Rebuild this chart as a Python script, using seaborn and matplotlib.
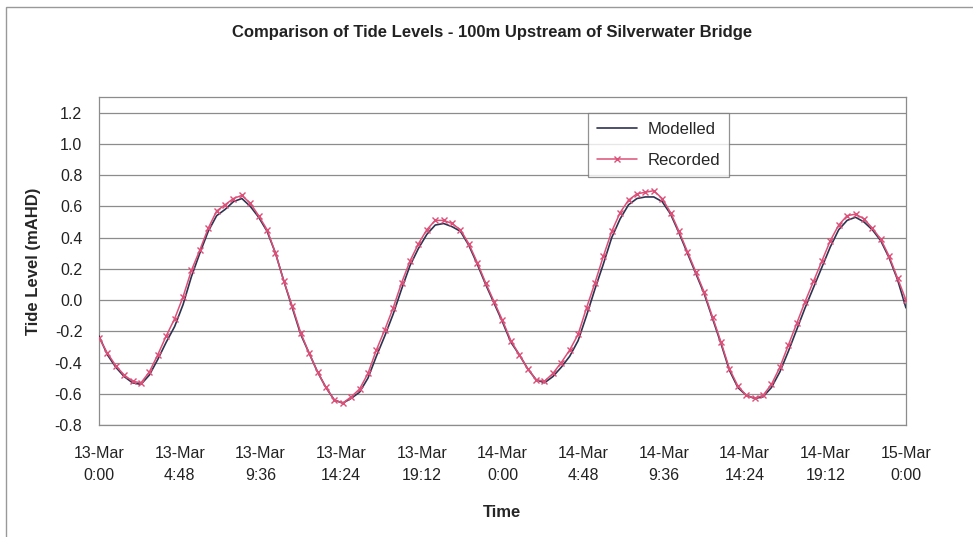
import numpy as np
import matplotlib.pyplot as plt
import seaborn as sns
from matplotlib.patches import Rectangle

# half-hourly tide levels (mAHD), 13-Mar 0:00 to 15-Mar 0:00
hours = np.arange(0, 48.5, 0.5)

modelled = [
    -0.23, -0.35, -0.43, -0.49, -0.53, -0.54, -0.48, -0.38, -0.27, -0.17, -0.03, 0.15,
    0.30, 0.44, 0.54, 0.58, 0.63, 0.65, 0.60, 0.53, 0.44, 0.30, 0.12, -0.05,
    -0.22, -0.34, -0.46, -0.56, -0.64, -0.66, -0.63, -0.59, -0.50, -0.36, -0.23, -0.09,
    0.07, 0.22, 0.33, 0.42, 0.48, 0.49, 0.47, 0.44, 0.35, 0.23, 0.10, -0.02,
    -0.14, -0.27, -0.35, -0.44, -0.51, -0.53, -0.49, -0.43, -0.36, -0.26, -0.10, 0.07,
    0.23, 0.40, 0.52, 0.61, 0.65, 0.66, 0.66, 0.63, 0.55, 0.43, 0.30, 0.17,
    0.04, -0.12, -0.28, -0.45, -0.56, -0.61, -0.63, -0.62, -0.56, -0.46, -0.33, -0.19,
    -0.05, 0.08, 0.21, 0.34, 0.45, 0.51, 0.53, 0.50, 0.45, 0.38, 0.27, 0.13,
    -0.05,
]

recorded = [
    -0.24, -0.34, -0.42, -0.48, -0.52, -0.53, -0.46, -0.35, -0.23, -0.12, 0.02, 0.19,
    0.32, 0.46, 0.57, 0.61, 0.65, 0.67, 0.62, 0.54, 0.45, 0.30, 0.12, -0.04,
    -0.21, -0.34, -0.46, -0.56, -0.64, -0.66, -0.62, -0.57, -0.47, -0.32, -0.19, -0.05,
    0.11, 0.25, 0.36, 0.45, 0.51, 0.51, 0.49, 0.45, 0.36, 0.24, 0.11, -0.01,
    -0.13, -0.26, -0.35, -0.44, -0.51, -0.52, -0.47, -0.40, -0.32, -0.22, -0.05, 0.11,
    0.28, 0.44, 0.56, 0.64, 0.68, 0.69, 0.70, 0.65, 0.56, 0.44, 0.31, 0.18,
    0.05, -0.11, -0.27, -0.44, -0.55, -0.61, -0.63, -0.61, -0.54, -0.43, -0.29, -0.15,
    -0.01, 0.12, 0.25, 0.38, 0.48, 0.54, 0.55, 0.52, 0.46, 0.39, 0.28, 0.14,
    0.00,
]

tick_hours = [0, 4.8, 9.6, 14.4, 19.2, 24, 28.8, 33.6, 38.4, 43.2, 48]
tick_labels = [
    "13-Mar\n0:00", "13-Mar\n4:48", "13-Mar\n9:36", "13-Mar\n14:24", "13-Mar\n19:12",
    "14-Mar\n0:00", "14-Mar\n4:48", "14-Mar\n9:36", "14-Mar\n14:24", "14-Mar\n19:12",
    "15-Mar\n0:00",
]
y_ticks = [-0.8, -0.6, -0.4, -0.2, 0.0, 0.2, 0.4, 0.6, 0.8, 1.0, 1.2]

sns.set_style("white")
plt.rcParams["font.family"] = ["Liberation Sans", "DejaVu Sans"]

GRID = "#8c8c8c"

fig = plt.figure(figsize=(9.73, 5.37), dpi=100)
ax = fig.add_axes([0.1017, 0.2086, 0.8294, 0.6108])

for y in y_ticks:
    ax.axhline(y, color=GRID, lw=0.9, zorder=0)

sns.lineplot(x=hours, y=modelled, ax=ax, color="#2d3450", lw=1.2,
             label="Modelled", zorder=3)
sns.lineplot(x=hours, y=recorded, ax=ax, color="#dc4f78", lw=1.1,
             marker="x", markersize=4, markeredgewidth=1.0,
             markeredgecolor="#dc4f78", label="Recorded", zorder=4)

ax.set_xlim(0, 48)
ax.set_ylim(-0.8, 1.3)
ax.set_xticks(tick_hours)
ax.set_xticklabels(tick_labels, linespacing=1.6)
ax.set_yticks(y_ticks)
ax.set_yticklabels([f"{v:.1f}" for v in y_ticks])
ax.tick_params(axis="both", labelsize=11.5, colors="#222222", length=5,
               width=0.9, direction="out")
ax.tick_params(axis="x", pad=10, color=GRID)
ax.tick_params(axis="y", pad=7, color=GRID)

for side in ["left", "bottom", "top", "right"]:
    ax.spines[side].set_visible(True)
    ax.spines[side].set_color(GRID)
    ax.spines[side].set_linewidth(0.9)

ax.set_xlabel("Time", fontsize=12, fontweight="bold", labelpad=16)
ax.set_ylabel("Tide Level (mAHD)", fontsize=12, fontweight="bold", labelpad=10)
fig.text(0.506, 0.94, "Comparison of Tide Levels - 100m Upstream of Silverwater Bridge",
         ha="center", va="center", fontsize=12, fontweight="bold", color="#222222")

leg = ax.legend(loc="upper left", bbox_to_anchor=(0.606, 0.951), borderaxespad=0,
                fontsize=12, frameon=True, fancybox=False, handlelength=2.4,
                handletextpad=0.6, borderpad=0.55, labelspacing=0.95)
leg.get_frame().set_edgecolor("#777777")
leg.get_frame().set_linewidth(0.9)

fig.patches.append(Rectangle((6 / 973, -0.1), 1.2, 1.1 - 7 / 537, transform=fig.transFigure,
                             fill=False, edgecolor="#999999", lw=1.0, clip_on=False))

fig.savefig("out.png", dpi=100)
